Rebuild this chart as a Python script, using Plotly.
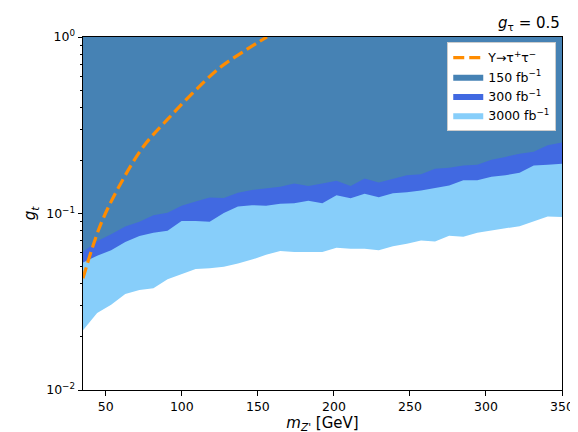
import plotly.graph_objects as go

# Z' mass grid [GeV]
mass = [35.0, 44.3, 53.5, 62.8, 72.1, 81.3, 90.6, 99.8, 109.1, 118.3, 127.6, 136.9,
        146.1, 155.4, 164.7, 173.9, 183.2, 192.4, 201.7, 211.0, 220.2, 229.5, 238.8,
        248.0, 257.3, 266.5, 275.8, 285.1, 294.3, 303.6, 312.8, 322.1, 331.4, 340.6, 350.0]

# lower limits on g_t for each luminosity
g150 = [0.0607, 0.0697, 0.0764, 0.0844, 0.0899, 0.0978, 0.1009, 0.1108, 0.1170, 0.1232,
        0.1223, 0.1313, 0.1359, 0.1389, 0.1418, 0.1481, 0.1431, 0.1481, 0.1535, 0.1431,
        0.1579, 0.1500, 0.1579, 0.1647, 0.1668, 0.1794, 0.1817, 0.1872, 0.1888, 0.2013,
        0.2092, 0.2183, 0.2239, 0.2439, 0.2522]
g300 = [0.0528, 0.0577, 0.0619, 0.0690, 0.0745, 0.0779, 0.0799, 0.0908, 0.0908, 0.0897,
        0.1006, 0.1094, 0.1115, 0.1108, 0.1136, 0.1144, 0.1181, 0.1144, 0.1267, 0.1220,
        0.1292, 0.1235, 0.1303, 0.1320, 0.1351, 0.1395, 0.1440, 0.1545, 0.1545, 0.1616,
        0.1647, 0.1700, 0.1872, 0.1888, 0.1912]
g3000 = [0.0218, 0.0273, 0.0304, 0.0350, 0.0369, 0.0377, 0.0424, 0.0455, 0.0485, 0.0489,
         0.0499, 0.0521, 0.0548, 0.0584, 0.0613, 0.0605, 0.0605, 0.0605, 0.0639, 0.0631,
         0.0631, 0.0619, 0.0653, 0.0673, 0.0702, 0.0693, 0.0748, 0.0738, 0.0777, 0.0804,
         0.0825, 0.0847, 0.0906, 0.0962, 0.0954]

# Upsilon -> tau tau constraint
ups_m = [35.0, 46.7, 60.9, 75.1, 90.4, 107.8, 125.3, 142.7, 156.0]
ups_g = [0.043, 0.087, 0.154, 0.242, 0.340, 0.488, 0.673, 0.850, 1.0]

labels = ["Υ→τ<sup>+</sup>τ<sup>−</sup>", "150 fb<sup>−1</sup>", "300 fb<sup>−1</sup>", "3000 fb<sup>−1</sup>"]
colors = {"150": "#4682B4", "300": "#4169E1", "3000": "#87CEFA"}
top = 1.0

fig = go.Figure()

def band(lims, color, name, rank):
    xs = mass + mass[::-1]
    ys = lims + [top] * len(mass)
    fig.add_trace(go.Scatter(x=xs, y=ys, fill="toself", fillcolor=color, mode="lines",
                             line=dict(width=0, color=color), name=name, legendrank=rank,
                             hoverinfo="skip"))

band(g3000, colors["3000"], labels[3], 4)
band(g300, colors["300"], labels[2], 3)
band(g150, colors["150"], labels[1], 2)

fig.add_trace(go.Scatter(x=ups_m, y=ups_g, mode="lines", name=labels[0], legendrank=1,
                         line=dict(color="#FF8C00", width=3.2, dash="11px,5px", shape="spline")))

minor_vals = [m * 10 ** e for e in (-2, -1) for m in range(2, 10)]

fig.update_layout(
    width=578, height=432,
    margin=dict(l=75, r=21, t=29, b=43),
    paper_bgcolor="white", plot_bgcolor="white",
    font=dict(family="DejaVu Sans", size=12.5, color="black"),
    showlegend=True,
    legend=dict(x=0.988, y=0.986, xanchor="right", yanchor="top",
                bgcolor="white", bordercolor="#cccccc", borderwidth=1,
                font=dict(size=12.5), tracegroupgap=0),
    xaxis=dict(range=[35, 350], tickvals=[50, 100, 150, 200, 250, 300, 350],
               ticks="outside", ticklen=4.5, tickwidth=1, tickcolor="black",
               showline=True, linecolor="black", linewidth=1, mirror=True,
               showgrid=False, zeroline=False,
               title=dict(text="<i>m</i><sub><i>Z'</i></sub> [GeV]", font=dict(size=15), standoff=4)),
    yaxis=dict(type="log", range=[-2, 0], tickvals=[0.01, 0.1, 1],
               ticktext=["10<sup>−2</sup>", "10<sup>−1</sup>", "10<sup>0</sup>"],
               ticks="outside", ticklen=4.5, tickwidth=1, tickcolor="black",
               minor=dict(tickvals=minor_vals, ticks="outside", ticklen=2.5,
                          tickwidth=0.8, tickcolor="black", showgrid=False),
               showline=True, linecolor="black", linewidth=1, mirror=True,
               showgrid=False, zeroline=False,
               title=dict(text="<i>g<sub>t</sub></i>", font=dict(size=15), standoff=6)),
    annotations=[dict(text="<i>g</i><sub>τ</sub> = 0.5", xref="paper", yref="paper",
                      x=1, y=1, xanchor="right", yanchor="bottom", yshift=2,
                      showarrow=False, font=dict(size=15))],
)

fig.write_html("out.html")
